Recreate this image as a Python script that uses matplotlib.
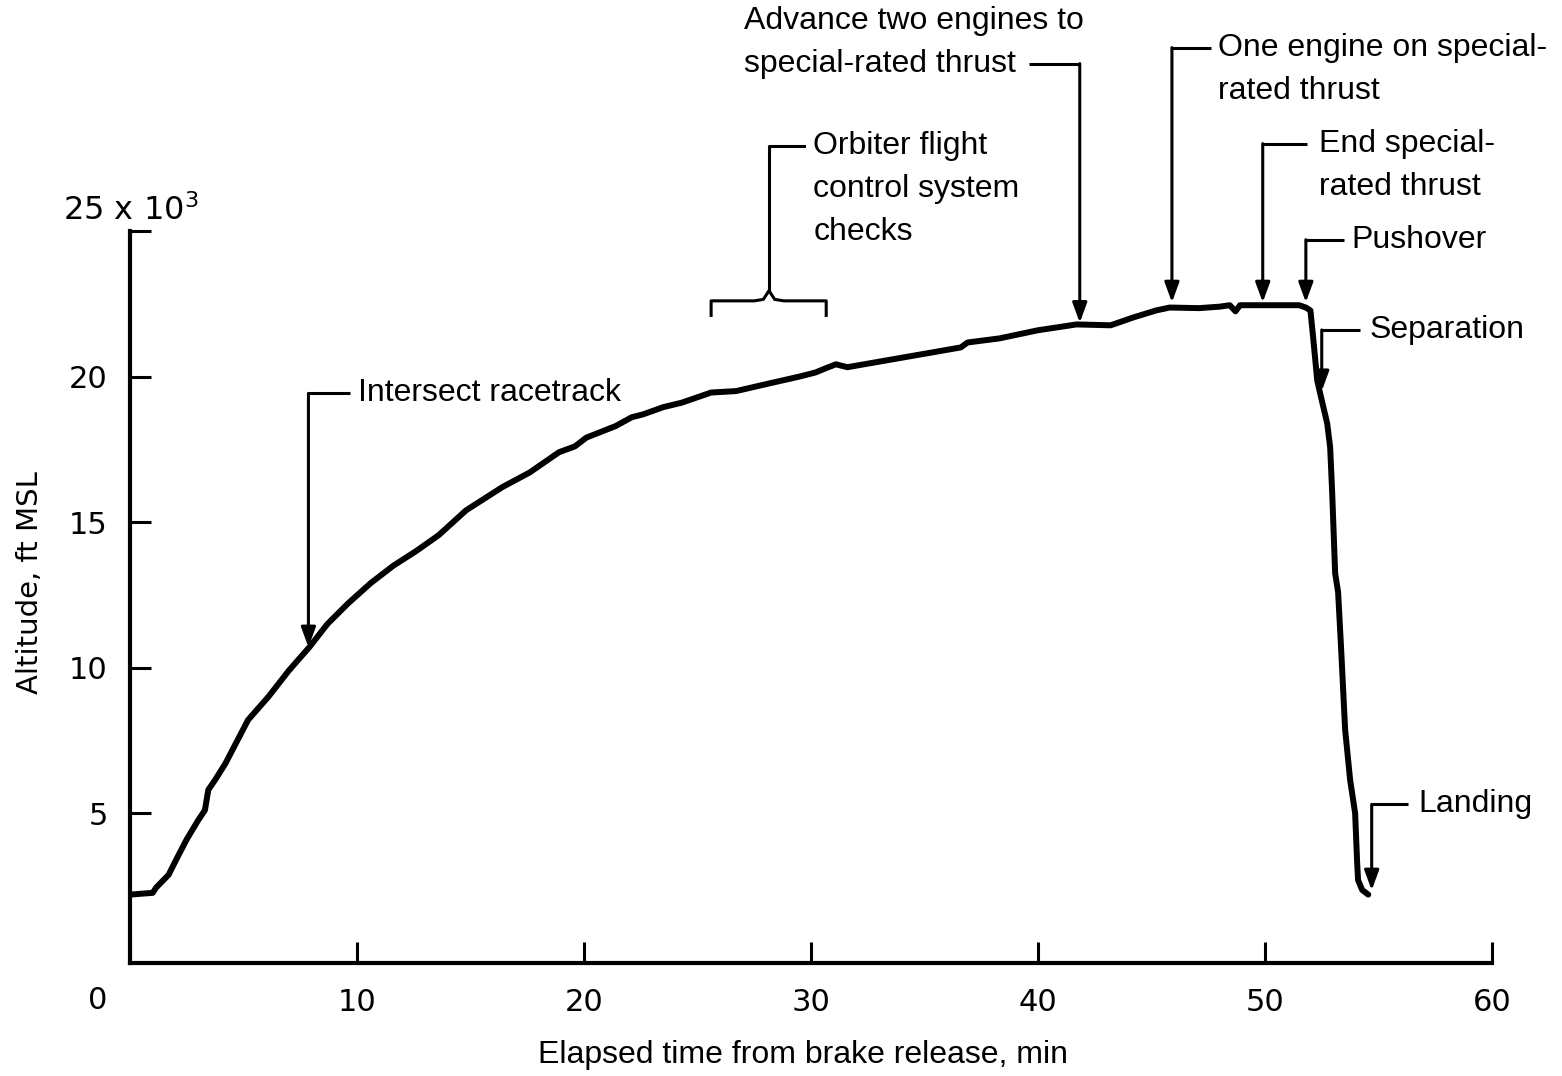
import matplotlib
matplotlib.use('Agg')
import matplotlib.pyplot as plt

# altitude trace (time in min, altitude in 1000 ft)
time_min = [0.0, 1.0, 1.15, 1.4, 1.7, 2.1, 2.5, 3.0, 3.3, 3.45, 3.75, 4.2, 5.2, 6.1,
            7.0, 7.9, 8.7, 9.6, 10.6, 11.6, 12.6, 13.6, 14.8, 16.4, 17.6, 18.9, 19.6,
            20.1, 21.4, 22.1, 22.6, 23.5, 24.3, 25.6, 26.7, 28.2, 29.5, 30.2, 30.7,
            31.1, 31.6, 34.1, 35.5, 36.6, 36.9, 38.3, 40.0, 41.7, 43.2, 44.2, 45.2,
            45.8, 47.1, 48.0, 48.45, 48.7, 48.9, 49.8, 51.5, 51.8, 52.0, 52.12, 52.3,
            52.43, 52.74, 52.87, 52.96, 53.09, 53.22, 53.35, 53.53, 53.75, 53.97,
            54.06, 54.1, 54.28, 54.55]
altitude = [2.2, 2.26, 2.44, 2.64, 2.88, 3.5, 4.1, 4.75, 5.1, 5.8, 6.14, 6.7, 8.2, 9.0,
            9.9, 10.7, 11.5, 12.2, 12.9, 13.5, 14.0, 14.55, 15.4, 16.2, 16.7, 17.4, 17.6,
            17.9, 18.3, 18.6, 18.7, 18.95, 19.1, 19.45, 19.5, 19.77, 20.0, 20.14, 20.3,
            20.42, 20.32, 20.66, 20.85, 21.0, 21.17, 21.31, 21.59, 21.79, 21.76, 22.03, 22.27,
            22.37, 22.35, 22.4, 22.45, 22.24, 22.45, 22.45, 22.45, 22.37, 22.27, 21.35, 19.87,
            19.42, 18.39, 17.57, 16.0, 13.24, 12.6, 10.7, 7.87, 6.14, 5.0,
            3.29, 2.7, 2.36, 2.2]

x_ticks = [0, 10, 20, 30, 40, 50, 60]
x_ticklabels = ['', '10', '20', '30', '40', '50', '60']
y_ticks = [5, 10, 15, 20, 25]
y_ticklabels = ['5', '10', '15', '20', '']

# event labels
events = [
    ['Intersect racetrack'],
    ['Advance two engines to', 'special-rated thrust'],
    ['One engine on special-', 'rated thrust'],
    ['End special-', 'rated thrust'],
    ['Pushover'],
    ['Separation'],
    ['Landing'],
]
# arrow x, arrow tip, elbow height, elbow end x, text x
arrows = [
    (7.86, 10.7, 19.42, 9.7, 10.06),
    (41.84, 21.85, 30.75, 39.6, None),
    (45.9, 22.55, 31.3, 47.6, 47.93),
    (49.9, 22.55, 28.0, 51.85, 52.4),
    (51.8, 22.55, 24.7, 53.5, 53.8),
    (52.5, 19.5, 21.6, 54.2, 54.6),
    (54.7, 2.35, 5.3, 56.3, 56.75),
]

narrow = ['Liberation Sans', 'DejaVu Sans']
line_step = 1.476

fig = plt.figure(figsize=(15.62, 10.76), dpi=100)
ax = fig.add_axes([130/1562, 113/1076, 1362/1562, 732/1076])

ax.plot(time_min, altitude, color='black', lw=4.3, solid_capstyle='round',
        solid_joinstyle='round')

ax.set_xlim(0, 60)
ax.set_ylim(-0.15, 25)
ax.spines['top'].set_visible(False)
ax.spines['right'].set_visible(False)
ax.spines['left'].set_linewidth(3)
ax.spines['bottom'].set_linewidth(3)
ax.spines['left'].set_bounds(-0.15, 25)

ax.set_xticks(x_ticks)
ax.set_xticklabels(x_ticklabels)
ax.set_yticks(y_ticks)
ax.set_yticklabels(y_ticklabels)
ax.tick_params(direction='in', length=15, width=2.2, labelsize=22)
ax.tick_params(axis='x', pad=18)
ax.tick_params(axis='y', pad=16)

ax.text(-1.41, -1.45, '0', fontsize=22, ha='center', va='center', clip_on=False)
ax.text(-2.96, 25.7, '25 x 10$^3$', fontsize=23, ha='left', va='center', clip_on=False)

fig.text(30/1562, 1 - 583/1076, 'Altitude, ft MSL', rotation=90, fontsize=21,
         ha='center', va='center')
fig.text(803/1562, 1 - 1055/1076, 'Elapsed time from brake release, min',
         fontsize=23, family=narrow, ha='center', va='center')

# arrows with elbow leaders
for lines, (xa, tip, top, xend, xtxt) in zip(events, arrows):
    ax.plot([xend, xa], [top, top], color='black', lw=2.2, clip_on=False,
            solid_capstyle='butt')
    ax.annotate('', xy=(xa, tip), xytext=(xa, top), annotation_clip=False,
                arrowprops=dict(arrowstyle='-|>,head_length=0.6,head_width=0.22',
                                mutation_scale=20, color='black', lw=2.2,
                                shrinkA=0, shrinkB=0))
    if xtxt is None:
        continue
    for i, s in enumerate(lines):
        ax.text(xtxt, top - i*line_step, s, fontsize=23, family=narrow,
                ha='left', va='center', clip_on=False)

# the two-line label that sits left of its leader
for i, s in enumerate(events[1]):
    ax.text(27.05, 32.2 - i*line_step, s, fontsize=23, family=narrow,
            ha='left', va='center', clip_on=False)

# brace for the flight control system checks
brace_x = [25.6, 25.6, 27.5, 27.9, 28.15, 28.4, 28.8, 30.67, 30.67]
brace_y = [22.1, 22.6, 22.6, 22.65, 22.95, 22.65, 22.6, 22.6, 22.1]
ax.plot(brace_x, brace_y, color='black', lw=2.2, clip_on=False)
ax.plot([28.15, 28.15, 29.7], [22.95, 27.93, 27.93], color='black', lw=2.2,
        clip_on=False)
for i, s in enumerate(['Orbiter flight', 'control system', 'checks']):
    ax.text(30.1, 27.93 - i*line_step, s, fontsize=23, family=narrow,
            ha='left', va='center', clip_on=False)

fig.savefig('out.png', dpi=100)
